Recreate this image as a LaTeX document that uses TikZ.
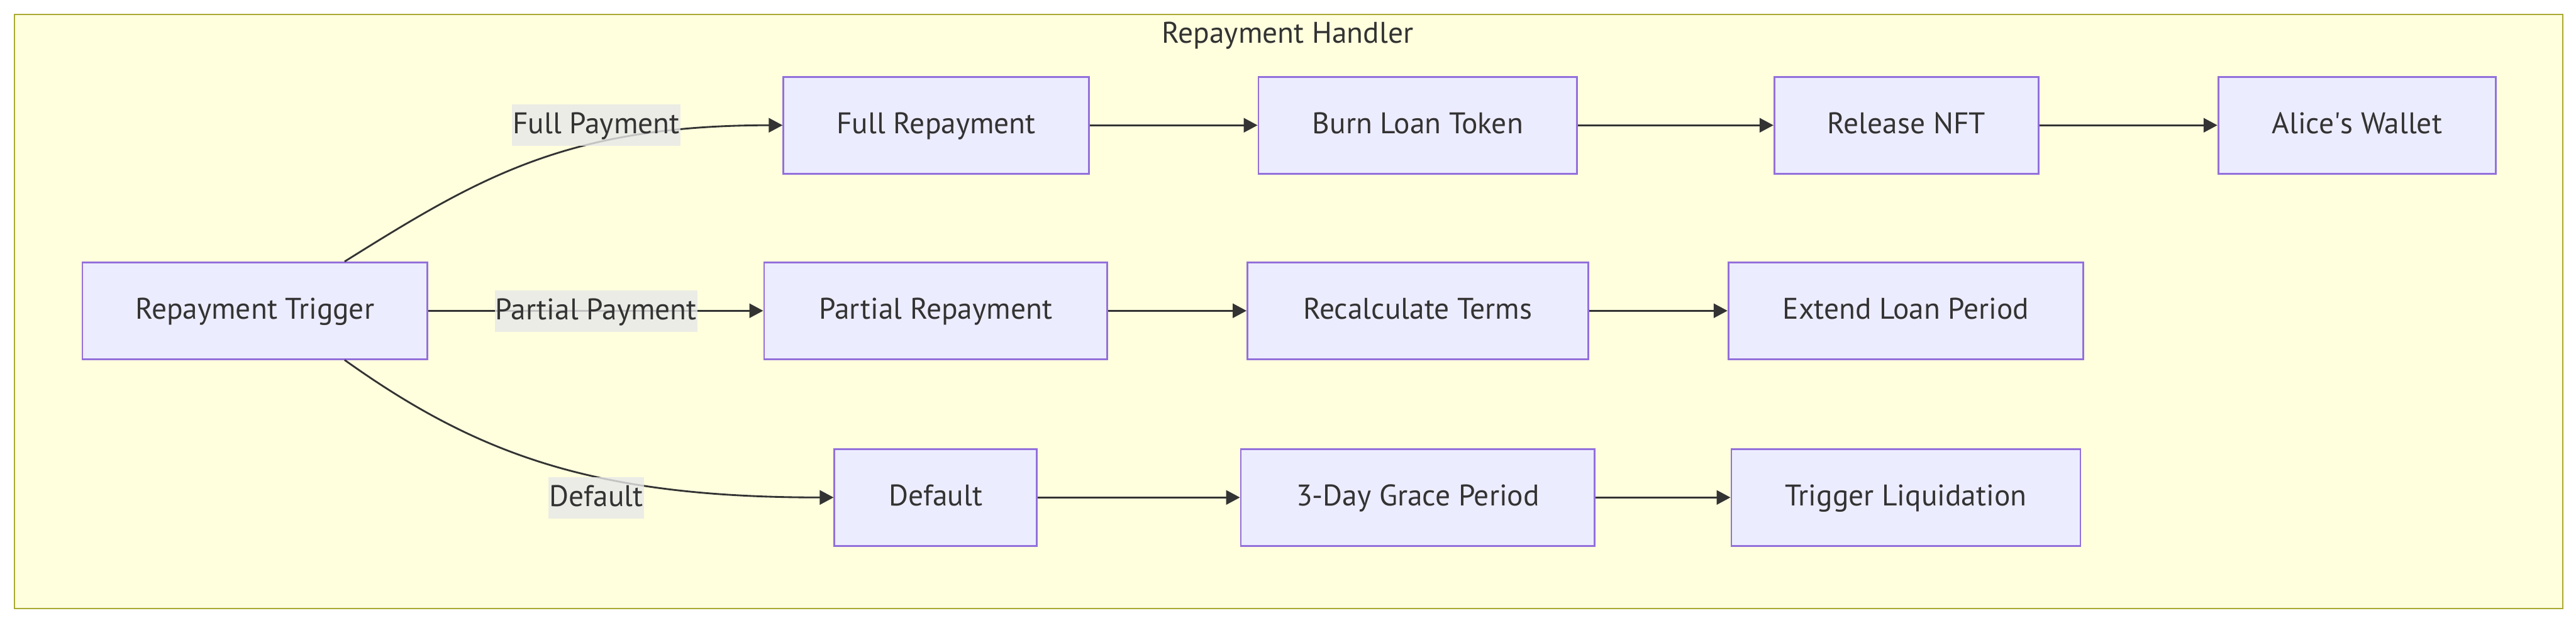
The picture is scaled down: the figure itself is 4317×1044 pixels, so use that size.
\documentclass[tikz,border=0pt]{standalone}
\usepackage{fontspec}
\setmainfont{PT Sans}
\usetikzlibrary{arrows.meta}

\definecolor{nodefill}{HTML}{ECECFF}
\definecolor{nodeline}{HTML}{9370DB}
\definecolor{clusterfill}{HTML}{FFFFDE}
\definecolor{clusterline}{HTML}{AAAA33}
\definecolor{labelfill}{HTML}{E8E8E8}
\definecolor{ink}{HTML}{333333}

\begin{document}
\begin{tikzpicture}[x=0.25pt, y=-0.25pt,
    txt/.style={text=ink, font=\fontsize{12.5}{14}\selectfont, text height=0.7em, text depth=0pt},
    box/.style={txt, draw=nodeline, fill=nodefill, line width=0.75pt, minimum height=40.5pt, inner sep=0pt},
    elabel/.style={txt, fill=labelfill, fill opacity=0.8, text opacity=1, inner xsep=0.3pt, inner ysep=0pt, minimum height=17.5pt},
    link/.style={draw=ink, line width=0.75pt, -{Triangle[length=5.8pt, width=6pt]}}]
    \useasboundingbox (0,0) rectangle (4317,1044);
    \draw[fill=clusterfill, draw=clusterline, line width=0.6pt] (24,24) rectangle (4295,1020);
    \node[txt] (title) at (2158,58) {Repayment Handler};

    \node[box, minimum width=144.5pt] (trig) at (427,521) {Repayment Trigger};

    \node[box, minimum width=128pt] (fullrep) at (1569,210) {Full Repayment};
    \node[box, minimum width=133.5pt] (burn) at (2376,210) {Burn Loan Token};
    \node[box, minimum width=110.75pt] (release) at (3195,210) {Release NFT};
    \node[box, minimum width=116.25pt] (wallet) at (3950,210) {Alice\textquotesingle s Wallet};

    \node[box, minimum width=143.75pt] (partial) at (1568,521) {Partial Repayment};
    \node[box, minimum width=142.75pt] (recalc) at (2376,521) {Recalculate Terms};
    \node[box, minimum width=148.75pt] (extend) at (3194,521) {Extend Loan Period};

    \node[box, minimum width=84.75pt] (dflt) at (1568,834) {Default};
    \node[box, minimum width=148.25pt] (grace) at (2376,834) {3-Day Grace Period};
    \node[box, minimum width=146.25pt] (liquid) at (3194,834) {Trigger Liquidation};

    % branches out of the trigger
    \draw[link] ([xshift=-35pt]trig.north east) .. controls +(224,-140) and +(-363,0) .. (fullrep.west);
    \draw[link] (trig) -- (partial);
    \draw[link] ([xshift=-35pt]trig.south east) .. controls +(224,160) and +(-399,0) .. (dflt.west);

    \foreach \a/\b in {fullrep/burn, burn/release, release/wallet, partial/recalc, recalc/extend, dflt/grace, grace/liquid}
        \draw[link] (\a) -- (\b);

    \node[elabel] (lfull) at (999,210) {Full Payment};
    \node[elabel] (lpart) at (999,522) {Partial Payment};
    \node[elabel] (ldef) at (999,835) {Default};
\end{tikzpicture}
\end{document}
